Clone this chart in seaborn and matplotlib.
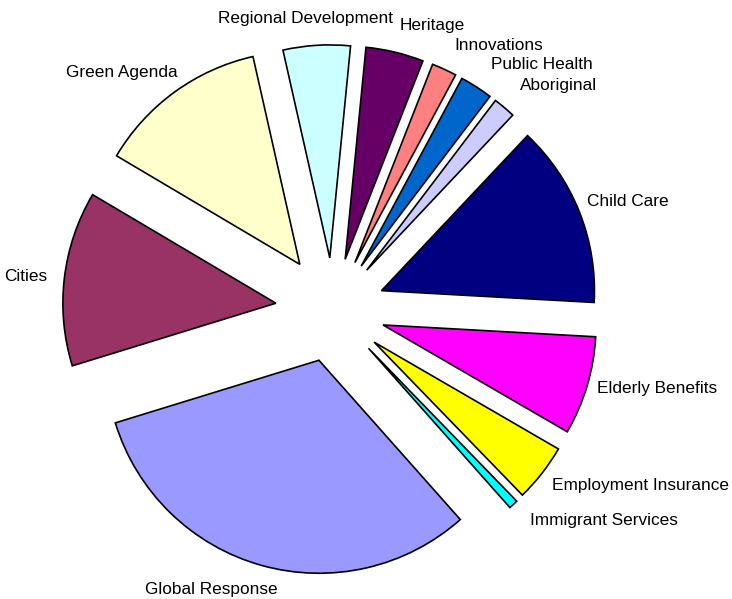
import numpy as np
import matplotlib
matplotlib.use('Agg')
import matplotlib.pyplot as plt
import seaborn as sns

sns.set_style('white')
plt.rcParams['font.family'] = ['Liberation Sans', 'DejaVu Sans']

# data, clockwise from the top
categories = ['Regional Development', 'Heritage', 'Innovations', 'Public Health',
              'Aboriginal', 'Child Care', 'Elderly Benefits', 'Employment Insurance',
              'Immigrant Services', 'Global Response', 'Cities', 'Green Agenda']
shares = [5.1, 4.4, 1.9, 2.5, 1.7, 13.9, 7.5, 4.4, 0.7, 31.9, 13.3, 13.0]
colors = ['#CCFFFF', '#660066', '#FF8080', '#0066CC', '#CCCCFF', '#000080',
          '#FF00FF', '#FFFF00', '#00FFFF', '#9999FF', '#993366', '#FFFFCC']

# label placement: (angle in degrees, distance in radii) from each wedge's centre
label_pos = [(95.9, 1.13), (69.5, 1.17), (56.5, 1.225), (48.2, 1.27),
             (43.8, 1.25), (19.8, 1.23), (-13.1, 1.32), (-28.2, 1.42),
             (-36.2, 1.37), (-115.2, 1.19), (173.8, 1.18), (132.8, 1.23)]
explode = [0.245] * len(shares)
explode[10] = 0.27
explode[11] = 0.265

fig = plt.figure(figsize=(7.32, 5.99), dpi=100)
ax = fig.add_axes([0, 0, 1, 1])
wedges, _ = ax.pie(shares, colors=colors, explode=explode, startangle=102.7,
                   counterclock=False, radius=1.0,
                   wedgeprops=dict(edgecolor='black', linewidth=1.2))
for w, name, (ang, dist) in zip(wedges, categories, label_pos):
    cx, cy = w.center
    a = np.deg2rad(ang)
    ax.text(cx + dist * w.r * np.cos(a), cy + dist * w.r * np.sin(a), name,
            ha='center', va='center', fontsize=12.4, color='black')

ax.set_xlim(-333 / 213, (732 - 333) / 213)
ax.set_ylim(-(599 - 310) / 213, 310 / 213)
ax.set_aspect('equal')
ax.axis('off')
fig.savefig('out.png', dpi=100, facecolor='white')
